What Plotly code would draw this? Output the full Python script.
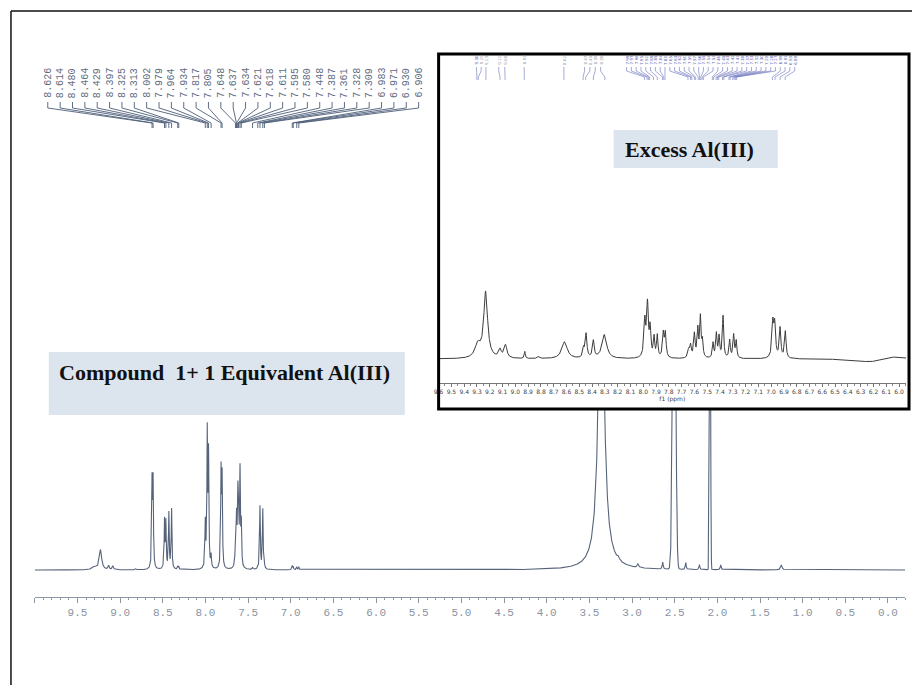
import numpy as np
import plotly.graph_objects as go

W, H = 912, 685

# ---------------- main 1H spectrum (compound 1 + 1 eq. Al(III)) ----------------
# peak-picked resonances, ppm as printed above the spectrum
main_labels = ["8.626", "8.614", "8.480", "8.464", "8.429", "8.397", "8.325", "8.313",
               "8.002", "7.979", "7.964", "7.934", "7.817", "7.805", "7.648", "7.637",
               "7.634", "7.621", "7.618", "7.611", "7.595", "7.580", "7.448", "7.387",
               "7.361", "7.328", "7.309", "6.983", "6.971", "6.930", "6.906"]
main_label_height = [85, 85, 48, 46, 56, 60, 3, 3,
                     45, 134, 112, 12, 95, 88, 30, 26,
                     26, 40, 36, 36, 95, 42, 2, 2,
                     63, 60, 3, 4, 3, 3, 3]

# further resonances (broad NH/OH, aliphatic impurities, water)
main_extra_ppm = [9.30, 9.23, 9.135, 9.085, 8.815, 3.36, 3.16, 2.93, 2.64, 2.545,
                  2.37, 2.21, 1.96, 1.25]
main_extra_height = [3, 20, 4, 4, 1.5, 330, 3, 3.5, 7, 5, 7, 5, 5, 5]
main_extra_hwhm = [0.03, 0.016, 0.008, 0.008, 0.008, 0.038, 0.012, 0.01, 0.006, 0.006,
                   0.006, 0.006, 0.006, 0.01]

# residual solvent lines (DMSO-d5, acetone)
solvent_ppm = [2.506, 2.086]
solvent_height = [420, 420]
solvent_sigma = [0.016, 0.006]

main_tick_text = ["", "9.5", "9.0", "8.5", "8.0", "7.5", "7.0", "6.5", "6.0", "5.5", "5.0",
                  "4.5", "4.0", "3.5", "3.0", "2.5", "2.0", "1.5", "1.0", "0.5", "0.0"]
main_tick_vals = [10.0, 9.5, 9.0, 8.5, 8.0, 7.5, 7.0, 6.5, 6.0, 5.5, 5.0,
                  4.5, 4.0, 3.5, 3.0, 2.5, 2.0, 1.5, 1.0, 0.5, 0.0]

# ---------------- inset spectrum (excess Al(III)) ----------------
inset_ppm = [9.294, 9.232, 9.12, 9.077, 8.926, 8.82, 8.615, 8.467, 8.447, 8.39, 8.304,
             7.988, 7.967, 7.946, 7.915, 7.89, 7.843, 7.827,
             7.645, 7.63, 7.60, 7.573, 7.553, 7.537,
             7.454, 7.428, 7.407, 7.376, 7.324, 7.293, 7.273,
             6.987, 6.972, 6.93, 6.889, 6.23, 6.02]
inset_height = [13, 66, 8, 13, 7, 2, 17, 9, 24, 17, 24,
                36, 52, 28, 20, 22, 24, 24,
                8, 12, 24, 28, 40, 16,
                15, 24, 21, 42, 18, 23, 17,
                34, 32, 30, 27, -3, 3]
inset_hwhm = [0.025, 0.018, 0.012, 0.013, 0.005, 0.01, 0.025, 0.007, 0.008, 0.008, 0.022,
              0.008, 0.008, 0.007, 0.006, 0.006, 0.007, 0.007,
              0.008, 0.007, 0.007, 0.006, 0.006, 0.006,
              0.006, 0.006, 0.006, 0.006, 0.006, 0.006, 0.006,
              0.008, 0.008, 0.007, 0.007, 0.12, 0.08]

inset_labels = ["9.30", "9.29", "9.23", "9.12", "9.08", "8.93", "8.62",
                "8.47", "8.45", "8.39", "8.30",
                "7.99", "7.97", "7.96", "7.95", "7.92", "7.89", "7.85", "7.84", "7.83",
                "7.65", "7.63", "7.62", "7.60", "7.59", "7.57", "7.56", "7.55", "7.54",
                "7.53", "7.46", "7.45", "7.43", "7.42", "7.41", "7.38", "7.37", "7.33",
                "7.32", "7.30", "7.29", "7.28", "7.27", "6.99", "6.97", "6.93", "6.89"]


def lorentz(x, centers, heights, widths):
    y = np.zeros_like(x)
    for c, h, w in zip(centers, heights, widths):
        y += h / (1.0 + ((x - c) / w) ** 2)
    return y


def gauss(x, centers, heights, sigmas):
    y = np.zeros_like(x)
    for c, h, s in zip(centers, heights, sigmas):
        y += h * np.exp(-0.5 * ((x - c) / s) ** 2)
    return y


def fx(px):
    return px / W


def fy(py):
    return 1.0 - py / H


# ---- build spectra ----
main_label_ppm = [float(s) for s in main_labels]
x_main = np.arange(-0.2, 10.0005, 0.001)
y_main = (lorentz(x_main, main_label_ppm, main_label_height, [0.005] * len(main_label_ppm))
          + lorentz(x_main, main_extra_ppm, main_extra_height, main_extra_hwhm)
          + gauss(x_main, solvent_ppm, solvent_height, solvent_sigma))

x_ins = np.arange(5.9, 9.65, 0.001)
y_ins = lorentz(x_ins, inset_ppm, inset_height, inset_hwhm)

# axis geometry (pixels)
MAIN_L, MAIN_R, MAIN_TOP, MAIN_BOT, MAIN_BASE = 30, 905, 410, 597, 570
MAIN_RANGE = [10.0, -0.2]
MAIN_PPP = (MAIN_R - MAIN_L) / (MAIN_RANGE[0] - MAIN_RANGE[1])
INS_L, INS_R, INS_TOP, INS_BOT, INS_BASE = 436, 906, 275, 383, 359
INS_PPP = 128.6
INS_RANGE = [9.6, 9.6 - (INS_R - INS_L) / INS_PPP]

SPEC_COLOR = "#56647b"
LABEL_COLOR = "#5f6c82"

fig = go.Figure()

fig.add_trace(go.Scatter(x=x_main, y=y_main, mode="lines",
                         line=dict(color=SPEC_COLOR, width=1.1),
                         xaxis="x", yaxis="y", hoverinfo="skip"))

fig.add_trace(go.Scatter(x=x_ins, y=y_ins, mode="lines",
                         line=dict(color="#3c3c3c", width=1),
                         xaxis="x2", yaxis="y2", hoverinfo="skip"))

annotations = []

# ---- peak labels of the main spectrum with fan-out connectors ----
lab_x = [MAIN_RANGE[0] - (43 + 12.43 * i - MAIN_L) / MAIN_PPP for i in range(len(main_labels))]
cx, cy = [], []
for lx, p in zip(lab_x, main_label_ppm):
    cx += [lx, lx, p, p, None]
    cy += [102, 108, 123, 128, None]
fig.add_trace(go.Scatter(x=cx, y=cy, mode="lines", line=dict(color="#4d5d78", width=0.9),
                         xaxis="x", yaxis="y3", hoverinfo="skip"))
for lx, txt in zip(lab_x, main_labels):
    annotations.append(dict(x=lx, y=100, xref="x", yref="y3", text=txt, textangle=-90,
                            xanchor="center", yanchor="bottom", showarrow=False,
                            font=dict(family="Liberation Mono", size=10, color=LABEL_COLOR)))

# ---- peak labels of the inset spectrum ----
label_groups = [(474, 4.8, 3), (496.5, 6.0, 2), (522, 0, 1), (562, 0, 1),
                (582.7, 5.4, 4), (625, 4.83, 36)]
ins_lab_px = []
for start, step, n in label_groups:
    ins_lab_px += [start + step * k for k in range(n)]
ins_lab_x = [INS_RANGE[0] - (px - INS_L) / INS_PPP for px in ins_lab_px]
ins_lab_ppm = [float(s) for s in inset_labels]
ix, iy = [], []
for lx, p in zip(ins_lab_x, ins_lab_ppm):
    ix += [lx, lx, p, p, None]
    iy += [67, 71, 77, 80, None]
fig.add_trace(go.Scatter(x=ix, y=iy, mode="lines", line=dict(color="#6a72bc", width=0.6),
                         xaxis="x2", yaxis="y4", hoverinfo="skip"))
for k, (lx, txt) in enumerate(zip(ins_lab_x, inset_labels)):
    col = "#5a62b4" if (k == 0 or k >= 11) else "#9a9aaa"
    annotations.append(dict(x=lx, y=66.5, xref="x2", yref="y4", text=txt, textangle=-90,
                            xanchor="center", yanchor="bottom", showarrow=False,
                            font=dict(family="DejaVu Sans", size=4, color=col)))

# ---- text boxes ----
annotations.append(dict(x=fx(221), y=fy(372), xref="paper", yref="paper",
                        text="<b>Compound\u00a0\u00a01+ 1 Equivalent Al(III)</b>",
                        showarrow=False, xanchor="center", yanchor="middle",
                        font=dict(family="Liberation Serif", size=22, color="#111111")))
annotations.append(dict(x=fx(688), y=fy(149), xref="paper", yref="paper",
                        text="<b>Excess Al(III)</b>",
                        showarrow=False, xanchor="center", yanchor="middle",
                        font=dict(family="Liberation Serif", size=22, color="#111111")))

shapes = [
    # outer frame
    dict(type="line", xref="paper", yref="paper", x0=fx(6), x1=fx(912), y0=fy(11), y1=fy(11),
         line=dict(color="#111111", width=1.5)),
    dict(type="line", xref="paper", yref="paper", x0=fx(6), x1=fx(6), y0=fy(11), y1=fy(685),
         line=dict(color="#111111", width=1.5)),
    # caption boxes
    dict(type="rect", xref="paper", yref="paper", x0=fx(44), x1=fx(402), y0=fy(415), y1=fy(352),
         fillcolor="#dce4ee", line=dict(width=0), layer="above"),
    dict(type="rect", xref="paper", yref="paper", x0=fx(612), x1=fx(777), y0=fy(168), y1=fy(130),
         fillcolor="#dce4ee", line=dict(width=0), layer="above"),
    # inset frame
    dict(type="rect", xref="paper", yref="paper", x0=fx(436), x1=fx(909), y0=fy(409), y1=fy(54),
         line=dict(color="#000000", width=3), layer="above"),
]

fig.update_layout(
    width=W, height=H, margin=dict(l=0, r=0, t=0, b=0),
    paper_bgcolor="white", plot_bgcolor="rgba(0,0,0,0)", showlegend=False,
    xaxis=dict(domain=[fx(MAIN_L), fx(MAIN_R)], range=MAIN_RANGE, anchor="y",
               showgrid=False, zeroline=False, showline=True, linecolor="#8d97a6", linewidth=1,
               ticks="outside", ticklen=5, tickcolor="#8d97a6", tickwidth=1,
               tickmode="array", tickvals=main_tick_vals, ticktext=main_tick_text,
               tickfont=dict(family="Liberation Mono", size=11, color="#8a93a1"),
               minor=dict(dtick=0.1, ticks="outside", ticklen=2, tickcolor="#8d97a6", showgrid=False)),
    yaxis=dict(domain=[fy(MAIN_BOT), fy(MAIN_TOP)],
               range=[MAIN_BASE - MAIN_BOT, MAIN_BASE - MAIN_TOP],
               visible=False, anchor="x"),
    xaxis2=dict(domain=[fx(INS_L), fx(INS_R)], range=INS_RANGE, anchor="y2",
                showgrid=False, zeroline=False, showline=True, linecolor="#777777", linewidth=1,
                ticks="outside", ticklen=3, tickcolor="#777777", dtick=0.1, tick0=0,
                tickformat=".1f", tickfont=dict(family="DejaVu Sans", size=6, color="#444444"),
                minor=dict(dtick=0.05, ticks="outside", ticklen=2, tickcolor="#888888", showgrid=False),
                title=dict(text="f1 (ppm)", font=dict(family="DejaVu Sans", size=6, color="#444444"),
                           standoff=0)),
    yaxis2=dict(domain=[fy(INS_BOT), fy(INS_TOP)],
                range=[INS_BASE - INS_BOT, INS_BASE - INS_TOP],
                visible=False, anchor="x2"),
    yaxis3=dict(domain=[fy(135), fy(55)], range=[135, 55], visible=False, anchor="x"),
    yaxis4=dict(domain=[fy(85), fy(55)], range=[85, 55], visible=False, anchor="x2"),
    annotations=annotations,
    shapes=shapes,
)

fig.write_html("out.html")
